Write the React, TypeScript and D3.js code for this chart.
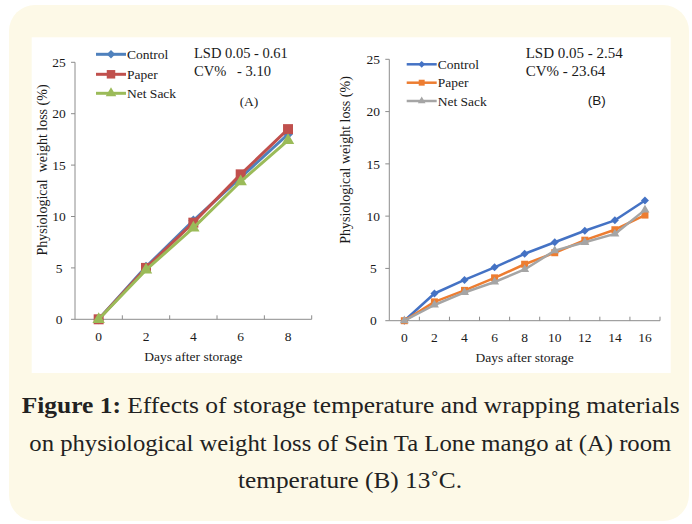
import * as d3 from "d3";

const W = 692;
const H = 524;

// panel A: room temperature
const daysA = [0, 2, 4, 6, 8];
const controlA = [0, 5.1, 9.6, 13.8, 18.0];
const paperA = [0, 5.0, 9.4, 14.1, 18.5];
const netSackA = [0, 4.8, 8.9, 13.4, 17.4];

// panel B: 13 C
const daysB = [0, 2, 4, 6, 8, 10, 12, 14, 16];
const controlB = [0, 2.6, 3.9, 5.1, 6.4, 7.5, 8.6, 9.6, 11.5];
const paperB = [0, 1.8, 2.9, 4.1, 5.4, 6.5, 7.7, 8.7, 10.1];
const netSackB = [0, 1.5, 2.7, 3.7, 4.9, 6.7, 7.5, 8.3, 10.6];

const seriesNames = ["Control", "Paper", "Net Sack"];
const yTicks = [0, 5, 10, 15, 20, 25];

const serif = "'Liberation Serif', 'Times New Roman', serif";
const axisColor = "#8c8c8c";
const ink = "#1a1a1a";

const marker = (kind: string, size: number) => {
  if (kind === "diamond") {
    const h = size / 2;
    return `M0,${-h}L${h},0L0,${h}L${-h},0Z`;
  }
  if (kind === "square") return d3.symbol(d3.symbolSquare, size * size)()!;
  return d3.symbol(d3.symbolTriangle, size * size * 0.55)()!;
};

type Panel = {
  days: number[];
  series: number[][];
  colors: string[];
  x0: number;
  x1: number;
  y0: number;
  y25: number;
  lineW: number;
  mSize: number[];
  legX: number;
  legY: number[];
  stats: string[];
  statsX: number;
  statsY: number[];
  statsSize: number;
  tag: string;
  tagX: number;
  tagY: number;
  tagFont: string;
  yLabel: string;
  yLabelX: number;
  yLabelY: number;
};

const ChartPanel = ({ p }: { p: Panel }) => {
  const x = d3.scaleBand<number>().domain(p.days).range([p.x0, p.x1]);
  const y = d3.scaleLinear().domain([0, 25]).range([p.y0, p.y25]);
  const cx = (d: number) => x(d)! + x.bandwidth() / 2;
  const kinds = ["diamond", "square", "triangle"];
  const bounds = [...p.days.map((d) => x(d)!), p.x1];
  const line = d3
    .line<number>()
    .x((_, i) => cx(p.days[i]))
    .y((v) => y(v));

  return (
    <g fontFamily={serif} fill={ink}>
      <line x1={p.x0} x2={p.x0} y1={y(0)} y2={y(25)} stroke={axisColor} />
      <line x1={p.x0} x2={p.x1} y1={y(0)} y2={y(0)} stroke={axisColor} />
      {yTicks.map((t) => (
        <g key={t}>
          <line x1={p.x0 - 4} x2={p.x0} y1={y(t)} y2={y(t)} stroke={axisColor} />
          <text x={p.x0 - 16} y={y(t)} dy="0.35em" textAnchor="middle" fontSize={13.5}>
            {t}
          </text>
        </g>
      ))}
      {bounds.slice(1).map((b, i) => (
        <line key={i} x1={b} x2={b} y1={y(0)} y2={y(0) - 4} stroke={axisColor} />
      ))}
      {p.days.map((d) => (
        <text key={d} x={cx(d)} y={y(0) + 17} dy="0.35em" textAnchor="middle" fontSize={13.5}>
          {d}
        </text>
      ))}
      <text
        x={(p.x0 + p.x1) / 2}
        y={y(0) + 37}
        dy="0.35em"
        textAnchor="middle"
        fontSize={13.5}
      >
        Days after storage
      </text>
      <text
        transform={`translate(${p.yLabelX},${p.yLabelY}) rotate(-90)`}
        textAnchor="middle"
        dy="0.35em"
        fontSize={14}
        style={{ whiteSpace: "pre" }}
      >
        {p.yLabel}
      </text>

      {p.series.map((vals, si) => (
        <g key={si}>
          <path
            d={line(vals)!}
            fill="none"
            stroke={p.colors[si]}
            strokeWidth={p.lineW}
            strokeLinejoin="round"
          />
          {vals.map((v, i) => (
            <path
              key={i}
              transform={`translate(${cx(p.days[i])},${y(v)})`}
              d={marker(kinds[si], p.mSize[si])}
              fill={p.colors[si]}
            />
          ))}
        </g>
      ))}

      {seriesNames.map((name, si) => (
        <g key={name}>
          <line
            x1={p.legX}
            x2={p.legX + 30}
            y1={p.legY[si]}
            y2={p.legY[si]}
            stroke={p.colors[si]}
            strokeWidth={p.lineW}
          />
          <path
            transform={`translate(${p.legX + 15},${p.legY[si]})`}
            d={marker(kinds[si], p.mSize[si] * 0.85)}
            fill={p.colors[si]}
          />
          <text x={p.legX + 31} y={p.legY[si]} dy="0.35em" fontSize={13.5}>
            {name}
          </text>
        </g>
      ))}

      {p.stats.map((s, i) => (
        <text
          key={i}
          x={p.statsX}
          y={p.statsY[i]}
          dy="0.35em"
          fontSize={p.statsSize}
          style={{ whiteSpace: "pre" }}
        >
          {s}
        </text>
      ))}
      <text
        x={p.tagX}
        y={p.tagY}
        dy="0.35em"
        textAnchor="middle"
        fontSize={13.5}
        fontFamily={p.tagFont}
      >
        {p.tag}
      </text>
    </g>
  );
};

const panelA: Panel = {
  days: daysA,
  series: [controlA, paperA, netSackA],
  colors: ["#4f81bd", "#c0504d", "#9bbb59"],
  x0: 75,
  x1: 311.7,
  y0: 319.3,
  y25: 62.3,
  lineW: 3,
  mSize: [10, 10, 11],
  legX: 96,
  legY: [54.3, 74.3, 93.3],
  stats: ["LSD 0.05 - 0.61", "CV%   - 3.10"],
  statsX: 194,
  statsY: [53.3, 70.7],
  statsSize: 14.5,
  tag: "(A)",
  tagX: 249,
  tagY: 101.7,
  tagFont: serif,
  yLabel: "Physiological  weight loss (%)",
  yLabelX: 42,
  yLabelY: 170,
};

const panelB: Panel = {
  days: daysB,
  series: [controlB, paperB, netSackB],
  colors: ["#4472c4", "#ed7d31", "#a5a5a5"],
  x0: 389.3,
  x1: 660,
  y0: 320.7,
  y25: 59.3,
  lineW: 2.5,
  mSize: [8, 7, 8],
  legX: 406.7,
  legY: [64.3, 82.7, 101],
  stats: ["LSD 0.05 - 2.54", "CV% - 23.64"],
  statsX: 525.7,
  statsY: [52.7, 70.7],
  statsSize: 15,
  tag: "(B)",
  tagX: 596.7,
  tagY: 100.7,
  tagFont: "'Liberation Sans', Arial, sans-serif",
  yLabel: "Physiological weight loss (%)",
  yLabelX: 345,
  yLabelY: 160,
};

const capFont = "'Liberation Serif', 'Times New Roman', serif";

export default function App() {
  return (
    <div style={{ position: "absolute", left: 0, top: 0 }}>
      <svg width={W} height={H} style={{ display: "block", background: "#fff" }}>
        <rect x={9} y={5} width={680} height={516} rx={26} fill="#fdf9e7" />
        <rect x={31.7} y={37.3} width={639} height={335.7} fill="#fff" />
        <ChartPanel p={panelA} />
        <ChartPanel p={panelB} />
        <g fontFamily={capFont} fontSize={23} fill="#222">
          <text x={21.7} y={413} textLength={658} lengthAdjust="spacingAndGlyphs">
            <tspan fontWeight="bold">Figure 1:</tspan> Effects of storage temperature and wrapping
            materials
          </text>
          <text x={29.3} y={451} textLength={642} lengthAdjust="spacingAndGlyphs">
            on physiological weight loss of Sein Ta Lone mango at (A) room
          </text>
          <text
            x={350}
            y={488}
            textAnchor="middle"
            textLength={224}
            lengthAdjust="spacingAndGlyphs"
          >
            temperature (B) 13˚C.
          </text>
        </g>
      </svg>
    </div>
  );
}
